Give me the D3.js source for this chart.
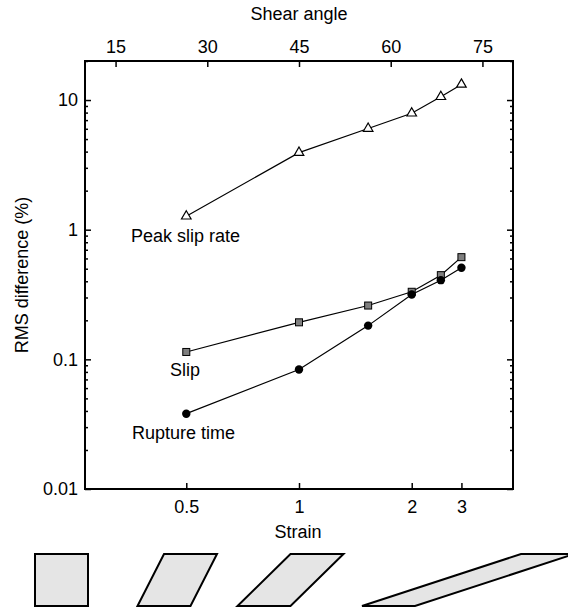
<!DOCTYPE html>
<html>
<head>
<meta charset="utf-8">
<script src="https://cdn.jsdelivr.net/npm/d3@7/dist/d3.min.js"></script>
<style>
  html, body { margin: 0; padding: 0; background: #fff; }
  svg { display: block; font-family: "Liberation Sans", Arial, Helvetica, sans-serif; }
</style>
</head>
<body>
<svg id="chart" width="568" height="609"></svg>
<script>
// ---- Data ----
const strains = [0.5, 1, 1.5, 2, 2.5, 3];
const peakSlipRate = [1.27, 3.93, 6.03, 7.91, 10.6, 13.2];
const slip = [0.114, 0.193, 0.260, 0.332, 0.446, 0.614];
const ruptureTime = [0.0381, 0.0834, 0.182, 0.316, 0.408, 0.509];

const strainTicks = [0.5, 1, 2, 3];
const angleTicks = [15, 30, 45, 60, 75];
const yMajorTicks = [0.01, 0.1, 1, 10];
const shapeStrains = [0, 0.5, 1, 3];

const seriesLabels = ["Peak slip rate", "Slip", "Rupture time"];

// ---- Layout ----
const W = 568, H = 609;
const L = 85, R = 513, T = 61, B = 489;
const svg = d3.select("#chart");
const fs = 18;

const toAngle = s => Math.atan(s) * 180 / Math.PI;
const x = d3.scaleLinear().domain([10, 80]).range([L, R]);
const y = d3.scaleLog().domain([0.01, 20]).range([B, T]);

// minor ticks
const yMinor = [];
[0.01, 0.1, 1, 10].forEach(d => { for (let k = 2; k <= 9; k++) { const v = d * k; if (v <= 20) yMinor.push(v); } });

const fmtY = d => (d >= 1 ? d3.format("d")(d) : d3.format("")(d));

function styleAxis(g) {
  g.select(".domain").remove();
  g.selectAll("line").attr("stroke", "#000").attr("stroke-width", 1.5);
  g.selectAll("text").attr("font-size", fs).attr("fill", "#000").attr("font-family", "Liberation Sans, Arial, sans-serif");
}

// left axis
svg.append("g").attr("transform", `translate(${L},0)`)
  .call(d3.axisLeft(y).tickValues(yMajorTicks).tickFormat(fmtY).tickSize(-6).tickPadding(7))
  .call(styleAxis);
svg.append("g").attr("transform", `translate(${L},0)`)
  .call(d3.axisLeft(y).tickValues(yMinor).tickFormat("").tickSize(-3))
  .call(styleAxis);
// right axis
svg.append("g").attr("transform", `translate(${R},0)`)
  .call(d3.axisRight(y).tickValues(yMajorTicks).tickFormat("").tickSize(-6))
  .call(styleAxis);
svg.append("g").attr("transform", `translate(${R},0)`)
  .call(d3.axisRight(y).tickValues(yMinor).tickFormat("").tickSize(-3))
  .call(styleAxis);
// bottom axis (strain)
svg.append("g").attr("transform", `translate(0,${B})`)
  .call(d3.axisBottom(x).tickValues(strainTicks.map(toAngle)).tickFormat((d, i) => String(strainTicks[i])).tickSize(-6).tickPadding(11))
  .call(styleAxis);
// top axis (shear angle)
svg.append("g").attr("transform", `translate(0,${T})`)
  .call(d3.axisTop(x).tickValues(angleTicks).tickFormat(d3.format("d")).tickSize(-6).tickPadding(8))
  .call(styleAxis);

// frame
svg.append("rect").attr("x", L).attr("y", T).attr("width", R - L).attr("height", B - T)
  .attr("fill", "none").attr("stroke", "#000").attr("stroke-width", 2);

// axis titles
svg.append("text").attr("x", (L + R) / 2).attr("y", 20).attr("text-anchor", "middle")
  .attr("font-size", fs).text("Shear angle");
svg.append("text").attr("x", 298).attr("y", 538).attr("text-anchor", "middle")
  .attr("font-size", fs).text("Strain");
svg.append("text").attr("transform", `translate(28,${(T + B) / 2}) rotate(-90)`)
  .attr("text-anchor", "middle").attr("font-size", fs).text("RMS difference (%)");

// lines
const line = d3.line().x(d => x(toAngle(d[0]))).y(d => y(d[1]));
const series = [peakSlipRate, slip, ruptureTime];
series.forEach(vals => {
  svg.append("path").datum(strains.map((s, i) => [s, vals[i]]))
    .attr("d", line).attr("fill", "none").attr("stroke", "#000").attr("stroke-width", 1.2);
});

// markers: triangles
const tri = d3.symbol().type(d3.symbolTriangle).size(40);
svg.selectAll(".tri").data(strains.map((s, i) => [s, peakSlipRate[i]])).join("path")
  .attr("transform", d => `translate(${x(toAngle(d[0]))},${y(d[1])})`)
  .attr("d", tri).attr("fill", "#fff").attr("stroke", "#000").attr("stroke-width", 1.2);
// squares
svg.selectAll(".sq").data(strains.map((s, i) => [s, slip[i]])).join("rect")
  .attr("x", d => x(toAngle(d[0])) - 3.5).attr("y", d => y(d[1]) - 3.5)
  .attr("width", 7).attr("height", 7)
  .attr("fill", "#7f7f7f").attr("stroke", "#000").attr("stroke-width", 1);
// circles
svg.selectAll(".cir").data(strains.map((s, i) => [s, ruptureTime[i]])).join("circle")
  .attr("cx", d => x(toAngle(d[0]))).attr("cy", d => y(d[1])).attr("r", 4.2)
  .attr("fill", "#000");

// series labels
svg.append("text").attr("x", 131).attr("y", 242).attr("font-size", fs).text(seriesLabels[0]);
svg.append("text").attr("x", 170).attr("y", 376).attr("font-size", fs).text(seriesLabels[1]);
svg.append("text").attr("x", 132).attr("y", 439).attr("font-size", fs).text(seriesLabels[2]);

// shear shapes
const side = 53, shapeTop = 554, shapeBottom = 606;
const shapeX = [35, 137.5, 237.5, 362];
shapeStrains.forEach((g, i) => {
  const x0 = shapeX[i], off = g * side;
  const pts = [[x0, shapeBottom], [x0 + side, shapeBottom], [x0 + side + off, shapeTop], [x0 + off, shapeTop]];
  svg.append("path").attr("d", d3.line()(pts) + "Z")
    .attr("fill", "#e5e5e5").attr("stroke", "#000").attr("stroke-width", 2).attr("stroke-linejoin", "miter");
});
</script>
</body>
</html>
